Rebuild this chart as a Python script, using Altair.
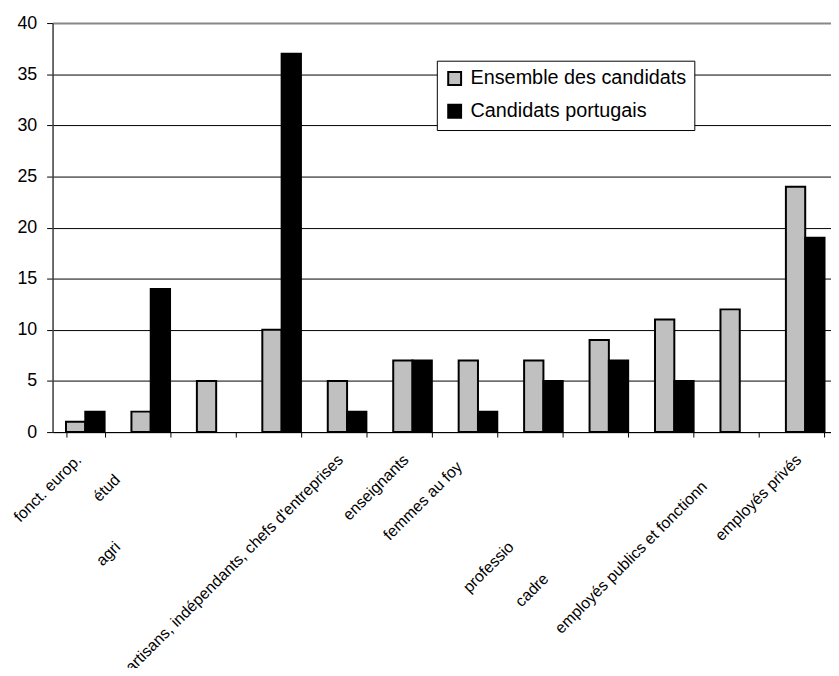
import json
import altair as alt
import pandas as pd

# Category labels as they appear under the axis ("" = label not shown)
labels = [
    "fonct. europ.",
    "étud",
    "agri",
    "",
    "artisans, indépendants, chefs d'entreprises",
    "enseignants",
    "femmes au foy",
    "",
    "professio",
    "cadre",
    "employés publics et fonctionn",
    "employés privés",
]
ensemble = [1, 2, 5, 10, 5, 7, 7, 7, 9, 11, 12, 24]
portugais = [2, 14, 0, 37, 2, 7, 2, 5, 7, 5, 0, 19]
series = ["Ensemble des candidats", "Candidats portugais"]
colors = ["#C0C0C0", "#000000"]
y_ticks = [0, 5, 10, 15, 20, 25, 30, 35, 40]

rows = []
for i in range(len(labels)):
    rows.append({"k": i, "serie": series[0], "v": ensemble[i]})
    rows.append({"k": i, "serie": series[1], "v": portugais[i]})
df = pd.DataFrame(rows)

FONT = "Liberation Sans"

# staggered label placement (label styling)
shift = {1: (-27, 20), 2: (-93, 88), 6: (-12, 7), 8: (-92, 88), 9: (-123, 120), 10: (-29, 27)}
base_off, base_pad = -7, 20
label_offset = {
    "condition": [{"test": f"datum.value == {k}", "value": base_off + dx} for k, (dx, dy) in shift.items()],
    "value": base_off,
}
label_padding = {
    "condition": [{"test": f"datum.value == {k}", "value": base_pad + dy} for k, (dx, dy) in shift.items()],
    "value": base_pad,
}

x_axis = alt.Axis(
    title=None,
    labelExpr=json.dumps(labels, ensure_ascii=False) + "[datum.value]",
    labelAngle=-45,
    labelAlign="right",
    labelBaseline="middle",
    labelOffset=label_offset,
    labelPadding=label_padding,
    labelFont=FONT,
    labelFontSize=16,
    labelColor="black",
    labelOverlap=False,
    labelLimit=1000,
    tickBand="extent",
    tickSize=5,
    tickColor="black",
    domainColor="black",
    domainWidth=1,
    grid=False,
)

y_axis = alt.Axis(
    title=None,
    values=y_ticks,
    grid=True,
    gridColor={"condition": {"test": "datum.value == 40", "value": "#888888"}, "value": "black"},
    gridWidth={"condition": {"test": "datum.value == 40", "value": 2}, "value": 1},
    domainColor="#404040",
    domainWidth=1.5,
    tickColor="black",
    tickSize=6,
    labelFont=FONT,
    labelFontSize=18,
    labelColor="black",
    labelPadding=10,
)

legend = alt.Legend(
    title=None,
    orient="none",
    legendX=388,
    legendY=38,
    direction="vertical",
    strokeColor="black",
    fillColor="white",
    padding=8,
    labelFont=FONT,
    labelFontSize=20,
    labelColor="black",
    labelOffset=6,
    labelLimit=1000,
    symbolType="square",
    symbolSize=169,
    symbolStrokeColor="black",
    symbolStrokeWidth=2,
    symbolOpacity=1,
    rowPadding=11,
)

chart = (
    alt.Chart(df)
    .transform_filter("datum.v > 0")
    .mark_bar(stroke="black", strokeWidth=2, opacity=1)
    .encode(
        x=alt.X("k:O", axis=x_axis,
                scale=alt.Scale(range=[0, 793], paddingInner=0.41, paddingOuter=0.205)),
        xOffset=alt.XOffset("serie:N", sort=series,
                            scale=alt.Scale(domain=series, paddingInner=0, paddingOuter=0)),
        y=alt.Y("v:Q", axis=y_axis, scale=alt.Scale(domain=[0, 40], nice=False)),
        color=alt.Color("serie:N", scale=alt.Scale(domain=series, range=colors), legend=legend),
    )
    .properties(
        width=786,
        height=413,
        autosize=alt.AutoSizeParams(type="none"),
        padding={"left": 45, "top": 12, "right": 0, "bottom": 235},
    )
    .configure_view(strokeWidth=0)
    .configure(background="white")
)

chart.save("out.html", embed_options={"renderer": "svg", "actions": False})
